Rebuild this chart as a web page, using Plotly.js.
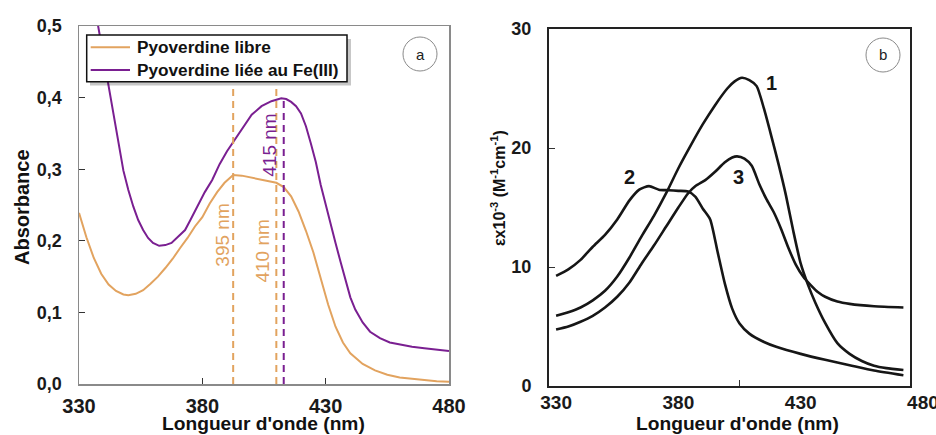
<!DOCTYPE html>
<html>
<head>
<meta charset="utf-8">
<script src="https://cdn.plot.ly/plotly-3.0.1.min.js"></script>
<style>html,body{margin:0;padding:0;background:#fff;}#chart{width:936px;height:435px;}</style>
</head>
<body>
<div id="chart"></div>
<script>
// ---------- Panel a : absorbance ----------
const wlLibre = [330,333,336,339,342,345,348,350,353,356,359,362,365,368,371,374,377,380,383,386,389,392.5,396,400,405,410,413,416,419,422,425,428,431,434,437,440,445,450,455,460,465,470,475,480];
const absLibre = [0.239,0.205,0.176,0.154,0.139,0.130,0.125,0.124,0.126,0.131,0.140,0.150,0.162,0.175,0.190,0.204,0.220,0.233,0.252,0.268,0.281,0.292,0.291,0.288,0.285,0.281,0.275,0.262,0.241,0.214,0.184,0.148,0.111,0.080,0.058,0.043,0.028,0.019,0.013,0.009,0.007,0.005,0.004,0.003];

const wlFe = [337.5,340,342,344,346,348,350,352,354,356,358,360,362.5,365,367.5,370,373,375,378,381,384,387,390,393,396,400,404,408,412,414,416,418,420,422,424,426,428,430,432,434,436,438,440,442,445,448,452,456,460,465,470,475,480];
const absFe = [0.505,0.455,0.415,0.375,0.332,0.298,0.271,0.248,0.229,0.215,0.204,0.197,0.193,0.194,0.197,0.205,0.215,0.228,0.248,0.268,0.285,0.307,0.325,0.340,0.356,0.376,0.388,0.395,0.399,0.398,0.394,0.388,0.378,0.360,0.336,0.310,0.278,0.250,0.222,0.197,0.171,0.146,0.121,0.104,0.086,0.073,0.064,0.058,0.055,0.052,0.050,0.048,0.046];

const seriesNames = ['Pyoverdine libre', 'Pyoverdine liée au Fe(III)'];

// peak marker lines (wavelength, top, label)
const peakWl = [392.5, 410, 413];
const peakTop = [0.415, 0.415, 0.399];
const peakText = ['395 nm', '410 nm', '415 nm'];
const peakTextX = [387.8, 404.6, 407.1];
const peakTextY = [0.208, 0.185, 0.333];

const ticksA_x = [330, 380, 430, 480];
const ticksA_y = [0, 0.1, 0.2, 0.3, 0.4, 0.5];
const ticksA_yText = ['0,0', '0,1', '0,2', '0,3', '0,4', '0,5'];

// ---------- Panel b : molar absorptivity ----------
const wl1 = [330,335,340,345,350,355,360,365,370,375,380,385,390,395,400,403,406,409,412,415,418,421,424,427,430,433,436,440,445,450,455,460,465,472];
const eps1 = [5.9,6.2,6.6,7.2,8.0,9.2,10.8,12.6,14.3,16.2,18.3,20.2,22.0,23.6,25.0,25.6,25.9,25.7,25.2,23.3,21.0,18.6,16.0,13.0,10.3,8.5,7.0,5.3,3.6,2.7,2.1,1.7,1.5,1.35];

const wl2 = [330,335,340,345,350,355,360,364,368,372,376,380,384,387,390,393,396,399,402,405,409,415,420,430,440,450,460,472];
const eps2 = [9.25,9.8,10.6,11.7,12.7,14.0,15.6,16.5,16.8,16.5,16.45,16.4,16.35,15.9,14.9,14.0,11.3,8.6,6.5,5.25,4.4,3.7,3.3,2.7,2.2,1.75,1.3,0.9];

const wl3 = [330,335,340,345,350,355,360,365,370,375,380,384,387,391,395,399,402,404,407,410,413,416,419,422,425,428,431,434,437,440,445,450,460,472];
const eps3 = [4.75,5.0,5.4,5.9,6.6,7.5,8.7,10.3,11.8,13.4,15.0,16.2,16.8,17.3,18.0,18.8,19.2,19.3,19.1,18.5,17.0,15.7,14.6,13.2,11.6,10.2,9.2,8.5,7.9,7.5,7.1,6.9,6.7,6.6];

const curveNames = ['1', '2', '3'];
const curveLabelX = [417.9, 360, 404.6];
const curveLabelY = [25.5, 17.6, 17.6];

const ticksB_x = [330, 380, 430, 480];
const ticksB_y = [0, 10, 20, 30];

// ---------- styling ----------
const ORANGE = '#E2A35F';
const PURPLE = '#7A1F91';
const INK = '#161616';
const FONT = 'Liberation Sans, Arial, sans-serif';
const W = 936, H = 435;
const px = v => v / W;
const py = v => 1 - v / H;

// panel b: frame axis x2 (549..910 px) and label axis x3 (549..936 px) share one px/nm scale
const bRange = [327.1, 474.7];
const bScale = (910 - 549) / (bRange[1] - bRange[0]);
const bRange3 = [bRange[0], bRange[0] + (W - 549) / bScale];

const traces = [
  {x: wlLibre, y: absLibre, type: 'scatter', mode: 'lines', name: seriesNames[0],
   line: {color: ORANGE, width: 2}, xaxis: 'x', yaxis: 'y'},
  {x: wlFe, y: absFe, type: 'scatter', mode: 'lines', name: seriesNames[1],
   line: {color: PURPLE, width: 2}, xaxis: 'x', yaxis: 'y'}
];
const peakColors = [ORANGE, ORANGE, PURPLE];
peakWl.forEach((w, i) => {
  traces.push({x: [w, w], y: [0, peakTop[i]], type: 'scatter', mode: 'lines', showlegend: false,
    hoverinfo: 'skip', line: {color: peakColors[i], width: 2, dash: '7px,5px'}, xaxis: 'x', yaxis: 'y'});
});
const bAxes = ['x2', 'x3', 'x3'];
[[wl1, eps1], [wl2, eps2], [wl3, eps3]].forEach((s, i) => {
  traces.push({x: s[0], y: s[1], type: 'scatter', mode: 'lines', name: 'Courbe ' + curveNames[i],
    showlegend: false, line: {color: INK, width: 2.6, shape: 'spline', smoothing: 0.6},
    xaxis: bAxes[i], yaxis: 'y2'});
});

const C = {xanchor: 'center', yanchor: 'middle', showarrow: false};
const annotations = [];
peakText.forEach((t, i) => {
  annotations.push(Object.assign({x: peakTextX[i], y: peakTextY[i], xref: 'x', yref: 'y', text: t,
    textangle: -90, font: {family: FONT, size: 19, color: peakColors[i]}}, C));
});
curveNames.forEach((t, i) => {
  annotations.push(Object.assign({x: curveLabelX[i], y: curveLabelY[i], xref: 'x3', yref: 'y2', text: t,
    font: {family: FONT, size: 20, color: INK, weight: 'bold'}}, C));
});
// axis titles
annotations.push(Object.assign({x: px(263), y: py(423), xref: 'paper', yref: 'paper', text: "Longueur d'onde (nm)",
  font: {family: FONT, size: 19.2, color: '#111', weight: 'bold'}}, C));
annotations.push(Object.assign({x: px(22), y: py(207), xref: 'paper', yref: 'paper', text: 'Absorbance', textangle: -90,
  font: {family: FONT, size: 20, color: '#111', weight: 'bold'}}, C));
annotations.push(Object.assign({x: px(737), y: py(423), xref: 'paper', yref: 'paper', text: "Longueur d'onde (nm)",
  font: {family: FONT, size: 19.2, color: '#111', weight: 'bold'}}, C));
annotations.push(Object.assign({x: px(498), y: py(188), xref: 'paper', yref: 'paper',
  text: 'εx10<sup>-3</sup> (M<sup>-1</sup>cm<sup>-1</sup>)', textangle: -90,
  font: {family: FONT, size: 16, color: '#111', weight: 'bold'}}, C));
// panel letters
annotations.push(Object.assign({x: px(420), y: py(54), xref: 'paper', yref: 'paper', text: 'a',
  font: {family: FONT, size: 15, color: '#222'}}, C));
annotations.push(Object.assign({x: px(883), y: py(55), xref: 'paper', yref: 'paper', text: 'b',
  font: {family: FONT, size: 15, color: '#222'}}, C));
// legend texts
const legendRowY = [47.3, 70];
seriesNames.forEach((t, i) => {
  annotations.push({x: px(135), y: py(legendRowY[i]), xref: 'paper', yref: 'paper', text: t,
    xanchor: 'left', yanchor: 'middle', showarrow: false,
    font: {family: FONT, size: 17.2, color: '#111', weight: 'bold'}});
});

const shapes = [
  // legend shadow, box and sample lines
  {type: 'rect', xref: 'paper', yref: 'paper', x0: px(90), x1: px(351), y0: py(85.5), y1: py(39),
   fillcolor: 'rgba(0,0,0,0.22)', line: {width: 0}, layer: 'above'},
  {type: 'rect', xref: 'paper', yref: 'paper', x0: px(86.7), x1: px(347), y0: py(81.7), y1: py(35),
   fillcolor: '#ffffff', line: {color: '#111', width: 1.5}, layer: 'above'},
  {type: 'line', xref: 'paper', yref: 'paper', x0: px(90.7), x1: px(130), y0: py(legendRowY[0]), y1: py(legendRowY[0]),
   line: {color: ORANGE, width: 2}, layer: 'above'},
  {type: 'line', xref: 'paper', yref: 'paper', x0: px(90.7), x1: px(130), y0: py(legendRowY[1]), y1: py(legendRowY[1]),
   line: {color: PURPLE, width: 2}, layer: 'above'},
  // panel letter circles
  {type: 'circle', xref: 'paper', yref: 'paper', x0: px(403), x1: px(437), y0: py(71), y1: py(37),
   line: {color: '#8a8a8a', width: 1}},
  {type: 'circle', xref: 'paper', yref: 'paper', x0: px(866), x1: px(900), y0: py(72), y1: py(38),
   line: {color: '#8a8a8a', width: 1}}
];

const tickFontX = {family: FONT, size: 20, color: '#1a1a1a', weight: 'bold'};
const tickFontY = {family: FONT, size: 18, color: '#1a1a1a', weight: 'bold'};

const layout = {
  width: W, height: H,
  margin: {l: 0, r: 0, t: 0, b: 0, pad: 0},
  paper_bgcolor: '#fff', plot_bgcolor: 'rgba(0,0,0,0)',
  showlegend: false,
  xaxis: {domain: [px(79), px(449)], range: [330, 480], tickvals: ticksA_x, ticks: 'inside', ticklen: 6,
    tickcolor: '#333', showline: true, linecolor: '#8a8a8a', linewidth: 1.5, mirror: true,
    showgrid: false, zeroline: false, tickfont: tickFontX, ticklabelstandoff: 3, ticklabeloverflow: 'allow', anchor: 'y'},
  yaxis: {domain: [py(384), py(26)], range: [0, 0.5], tickvals: ticksA_y, ticktext: ticksA_yText,
    ticks: 'inside', ticklen: 6, tickcolor: '#333', showline: true, linecolor: '#8a8a8a', linewidth: 1.5,
    mirror: true, showgrid: false, zeroline: false, tickfont: tickFontY, ticklabelstandoff: 12, anchor: 'x'},
  xaxis2: {domain: [px(549), px(910)], range: bRange, tickvals: [405], showticklabels: false,
    ticks: 'inside', ticklen: 6, tickcolor: '#333', showline: true, linecolor: '#222', linewidth: 2,
    mirror: true, showgrid: false, zeroline: false, anchor: 'y2'},
  xaxis3: {domain: [px(549), 1], range: bRange3, tickvals: ticksB_x,
    ticks: '', showline: false, showgrid: false, zeroline: false,
    tickfont: {family: FONT, size: 19, color: '#1a1a1a', weight: 'bold'},
    ticklabelstandoff: 3, ticklabeloverflow: 'allow', anchor: 'y2'},
  yaxis2: {domain: [py(386), py(29)], range: [0, 30], tickvals: ticksB_y, ticks: 'inside', ticklen: 6,
    tickcolor: '#333', showline: true, linecolor: '#222', linewidth: 2, mirror: true, showgrid: false,
    zeroline: false, tickfont: tickFontY, ticklabelstandoff: 12, anchor: 'x2'},
  annotations: annotations,
  shapes: shapes
};

Plotly.newPlot('chart', traces, layout, {staticPlot: true, displayModeBar: false});
</script>
</body>
</html>
